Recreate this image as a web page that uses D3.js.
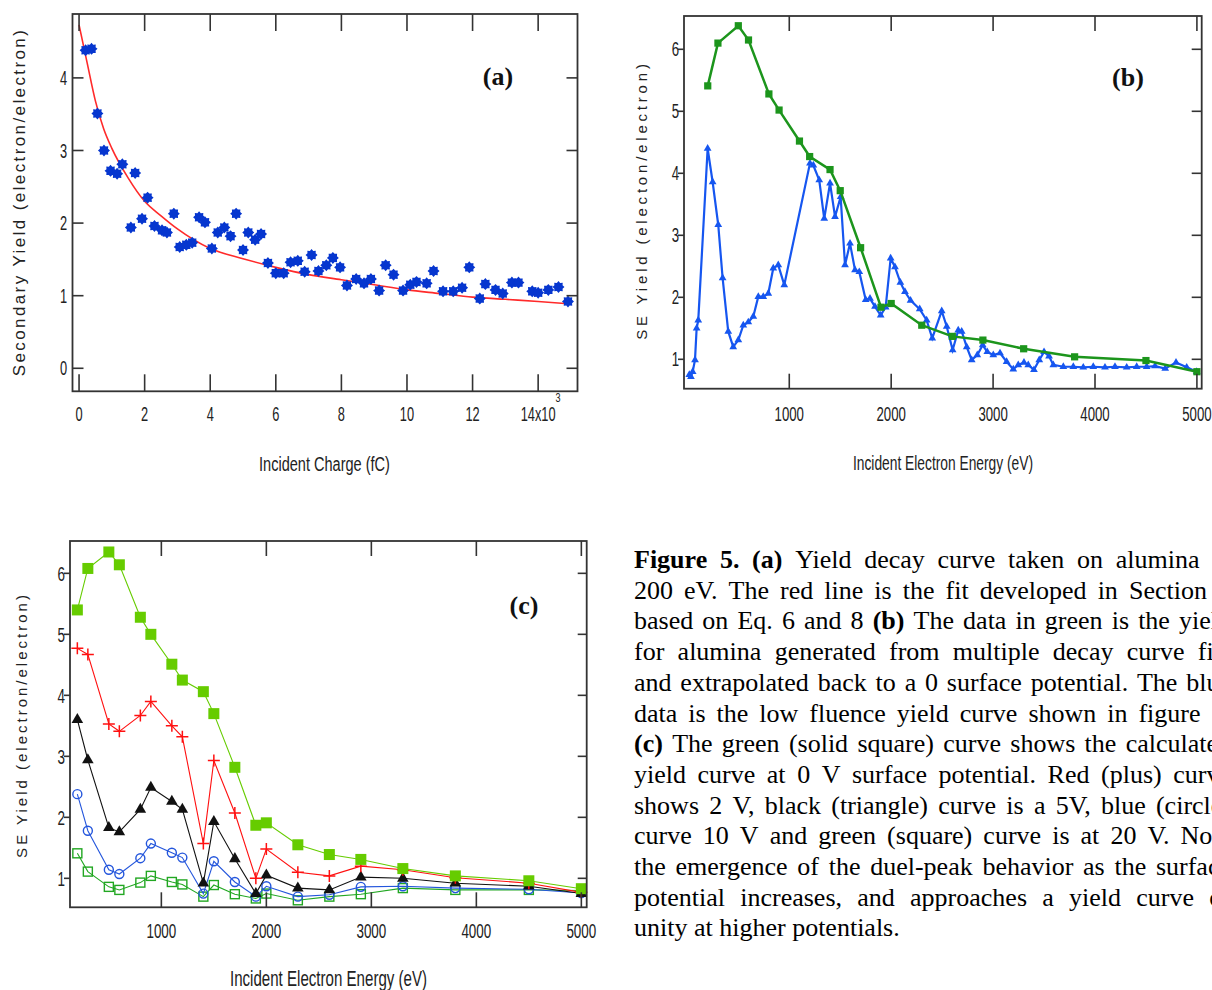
<!DOCTYPE html>
<html><head><meta charset="utf-8">
<script src="https://cdn.jsdelivr.net/npm/d3@7"></script>
<style>html,body{margin:0;padding:0;background:#fff;overflow:hidden}svg{display:block}</style>
</head><body>
<svg id="fig" width="1212" height="990"></svg>
<script>
// ---------------- Panel (a): yield decay ----------------
const aCharge = [0.2,0.38,0.56,0.76,0.96,1.16,1.32,1.58,1.71,1.92,2.09,2.30,2.53,2.68,2.89,3.07,3.27,3.45,3.66,3.84,4.05,4.23,4.43,4.62,4.79,5.0,5.16,5.37,5.55,5.76,6.0,6.24,6.45,6.67,6.88,7.09,7.30,7.54,7.74,7.96,8.17,8.45,8.69,8.90,9.15,9.35,9.59,9.88,10.1,10.29,10.6,10.81,11.1,11.41,11.68,11.9,12.22,12.39,12.7,12.92,13.2,13.4,13.82,14.0,14.31,14.62,14.91];
const aYield = [4.38,4.40,3.51,3.0,2.72,2.68,2.81,1.94,2.69,2.06,2.35,1.96,1.90,1.87,2.13,1.67,1.70,1.73,2.08,2.01,1.65,1.87,1.94,1.82,2.13,1.63,1.87,1.77,1.85,1.45,1.31,1.31,1.46,1.48,1.33,1.56,1.34,1.42,1.52,1.39,1.14,1.23,1.17,1.23,1.07,1.42,1.29,1.07,1.15,1.19,1.17,1.34,1.06,1.06,1.11,1.39,0.96,1.16,1.08,1.03,1.18,1.18,1.06,1.04,1.08,1.12,0.92];
const aFitCharge = [0,0.25,0.5,0.75,1,1.5,2,2.5,3,4,5,6,7,8,9,10,11,12,13,14,14.9];
const aFitYield = [4.73,4.2,3.68,3.3,3.03,2.62,2.3,2.1,1.92,1.65,1.51,1.39,1.29,1.22,1.15,1.08,1.03,0.98,0.95,0.92,0.89];
const aXTicks = [0,2,4,6,8,10,12,14];
const aXTickLabels = ["0","2","4","6","8","10","12","14x10"];
const aYTicks = [0,1,2,3,4];

// ---------------- Panel (b): yield curves ----------------
const bGreenEnergy = [200,300,500,600,800,900,1100,1200,1400,1500,1700,1900,2000,2300,2600,2900,3300,3800,4500,5000];
const bGreenYield = [5.41,6.1,6.38,6.15,5.28,5.02,4.52,4.27,4.06,3.72,2.8,1.84,1.9,1.55,1.37,1.31,1.17,1.04,0.98,0.8];
const bBlueEnergy = [19,35,52,75,91,107,199,248,303,346,401,450,500,549,598,647,696,745,794,843,892,951,1203,1236,1294,1343,1400,1449,1504,1547,1596,1645,1687,1750,1792,1841,1897,1946,1995,2037,2090,2135,2190,2280,2348,2403,2496,2545,2603,2658,2692,2741,2790,2845,2898,2943,3002,3068,3133,3198,3247,3303,3345,3401,3453,3500,3549,3591,3689,3787,3885,3983,4098,4196,4311,4409,4507,4589,4689,4795,4900,4998];
const bBlueYield = [0.75,0.72,0.80,0.99,1.50,1.63,4.40,3.86,3.17,2.31,1.45,1.20,1.31,1.55,1.60,1.69,2.01,2.01,2.06,2.47,2.52,2.20,4.16,4.13,3.89,3.27,3.84,3.30,3.62,2.52,2.87,2.44,2.41,1.96,1.98,1.85,1.71,1.84,2.63,2.49,2.24,2.09,1.95,1.81,1.63,1.34,1.78,1.53,1.15,1.47,1.45,1.20,0.99,1.07,1.23,1.12,1.07,1.10,0.96,0.84,0.91,0.95,0.91,0.83,0.99,1.12,1.05,0.91,0.88,0.88,0.87,0.88,0.87,0.88,0.87,0.88,0.88,0.89,0.85,0.95,0.87,0.80];
const bXTicks = [1000,2000,3000,4000,5000];
const bYTicks = [1,2,3,4,5,6];

// ---------------- Panel (c): surface potentials ----------------
const cEnergy = [200,300,500,600,800,900,1100,1200,1400,1500,1700,1900,2000,2300,2600,2900,3300,3800,4500,5000];
const c0V  = [5.40,6.08,6.35,6.14,5.28,5.00,4.51,4.25,4.06,3.70,2.82,1.87,1.91,1.55,1.39,1.31,1.16,1.04,0.96,0.83];
const c2V  = [4.77,4.67,3.53,3.41,3.67,3.90,3.50,3.32,1.57,2.93,2.07,1.00,1.48,1.10,1.04,1.20,1.14,1.01,0.92,0.77];
const c5V  = [3.60,2.94,1.83,1.76,2.13,2.49,2.26,2.13,0.92,1.93,1.32,0.75,1.05,0.84,0.81,1.02,1.00,0.92,0.87,0.75];
const c10V = [2.38,1.78,1.14,1.07,1.33,1.57,1.42,1.34,0.75,1.28,0.94,0.70,0.87,0.70,0.73,0.86,0.87,0.84,0.82,0.76];
const c20V = [1.41,1.11,0.86,0.81,0.93,1.04,0.94,0.90,0.70,0.89,0.74,0.67,0.75,0.64,0.70,0.74,0.84,0.81,0.81,0.80];
const cXTicks = [1000,2000,3000,4000,5000];
const cYTicks = [1,2,3,4,5,6];

// ---------------- Caption ----------------
const captionLines = [
  "**Figure 5.** **(a)** Yield decay curve taken on alumina at",
  "200 eV. The red line is the fit developed in Section 4",
  "based on Eq. 6 and 8 **(b)** The data in green is the yield",
  "for alumina generated from multiple decay curve fits",
  "and extrapolated back to a 0 surface potential. The blue",
  "data is the low fluence yield curve shown in figure 3.",
  "**(c)** The green (solid square) curve shows the calculated",
  "yield curve at 0 V surface potential. Red (plus) curve",
  "shows 2 V, black (triangle) curve is a 5V, blue (circle)",
  "curve 10 V and green (square) curve is at 20 V. Note",
  "the emergence of the duel-peak behavior as the surface",
  "potential increases, and approaches a yield curve of",
  "unity at higher potentials."
];

// =====================================================
const svg = d3.select("#fig");
const SANS = "'Liberation Sans', Arial, sans-serif";
const SERIF = "'Liberation Serif', 'Times New Roman', serif";
const AXC = "#333";

function txt(g, x, y, s, o = {}) {
  const t = g.append("text")
    .attr("transform", `translate(${x},${y}) rotate(${o.rot||0}) scale(${o.sx||1},${o.sy||1})`)
    .attr("text-anchor", o.anchor || "middle")
    .attr("font-family", o.family || SANS)
    .attr("font-size", o.size || 20)
    .attr("font-weight", o.weight || "normal")
    .attr("fill", o.fill || "#222")
    .text(s);
  if (o.ls) t.attr("letter-spacing", o.ls);
  return t;
}

function frame(g, xs, ys, o) {
  const [l, r] = xs.range(), [b, t] = ys.range();
  g.append("rect").attr("x", l).attr("y", t).attr("width", r - l).attr("height", b - t)
    .attr("fill", "none").attr("stroke", AXC).attr("stroke-width", 1.8);
  const ln = (x1, y1, x2, y2) => g.append("line").attr("x1", x1).attr("y1", y1).attr("x2", x2).attr("y2", y2)
    .attr("stroke", AXC).attr("stroke-width", 1.6);
  o.xTicks.forEach(v => { const x = xs(v); ln(x, b, x, b - o.xLen); ln(x, t, x, t + o.xLen); });
  o.yTicks.forEach(v => { const y = ys(v); ln(l, y, l + o.yLeft, y); ln(r, y, r - o.yRight, y); });
}

function starPath(ro, ri, n) {
  const p = [];
  for (let i = 0; i < 2 * n; i++) {
    const a = Math.PI * i / n - Math.PI / 2, rr = i % 2 ? ri : ro;
    p.push([rr * Math.cos(a), rr * Math.sin(a)]);
  }
  return "M" + p.map(d => d.join(",")).join("L") + "Z";
}

// ---------------- Panel (a) ----------------
{
  const g = svg.append("g");
  const xs = d3.scaleLinear().domain([-0.2, 15.2]).range([72.5, 577.5]);
  const ys = d3.scaleLinear().domain([-0.317, 4.88]).range([391.3, 14]);
  const fit = d3.line().x((d, i) => xs(aFitCharge[i])).y(d => ys(d)).curve(d3.curveMonotoneX);
  g.append("path").attr("d", fit(aFitYield)).attr("fill", "none").attr("stroke", "#ff2a2a").attr("stroke-width", 1.6);
  const sp = starPath(6.0, 4.4, 8);
  g.selectAll(".pa").data(aYield).enter().append("path")
    .attr("d", sp).attr("transform", (d, i) => `translate(${xs(aCharge[i])},${ys(d)})`)
    .attr("fill", "#0636cf");
  frame(g, xs, ys, { xTicks: aXTicks, yTicks: aYTicks, xLen: 17, yLeft: 11, yRight: 11 });
  aXTicks.forEach((v, i) => txt(g, xs(v), 421, aXTickLabels[i], { size: 20, sx: 0.64 }));
  txt(g, 558, 402, "3", { size: 13, sx: 0.7 });
  aYTicks.forEach(v => txt(g, 67, ys(v) + 7.2, String(v), { size: 20, sx: 0.64, anchor: "end" }));
  txt(g, 324.5, 471, "Incident Charge (fC)", { size: 19.5, sx: 0.746 });
  txt(g, 25, 202, "Secondary Yield (electron/electron)", { size: 17, rot: -90, ls: 2.4 });
  txt(g, 498, 85, "(a)", { size: 26, family: SERIF, weight: "bold", fill: "#111" });
}

// ---------------- Panel (b) ----------------
{
  const g = svg.append("g");
  const xs = d3.scaleLinear().domain([-33, 5047]).range([684, 1201.7]);
  const ys = d3.scaleLinear().domain([0.526, 6.537]).range([388.7, 16]);
  const line = d3.line();
  const blue = bBlueEnergy.map((e, i) => [xs(e), ys(bBlueYield[i])]);
  const green = bGreenEnergy.map((e, i) => [xs(e), ys(bGreenYield[i])]);
  g.append("path").attr("d", line(blue)).attr("fill", "none").attr("stroke", "#1656f0").attr("stroke-width", 2.2);
  const tri = d3.symbol(d3.symbolTriangle, 26)();
  g.selectAll(".tb").data(blue).enter().append("path").attr("d", tri)
    .attr("transform", d => `translate(${d[0]},${d[1]})`).attr("fill", "#1656f0");
  g.append("path").attr("d", line(green)).attr("fill", "none").attr("stroke", "#1c951c").attr("stroke-width", 2.5);
  g.selectAll(".sg").data(green).enter().append("rect")
    .attr("x", d => d[0] - 3.6).attr("y", d => d[1] - 3.6).attr("width", 7.2).attr("height", 7.2).attr("fill", "#1c951c");
  frame(g, xs, ys, { xTicks: bXTicks, yTicks: bYTicks, xLen: 15, yLeft: -6, yRight: 10 });
  bXTicks.forEach(v => txt(g, xs(v), 420.5, String(v), { size: 20, sx: 0.66 }));
  bYTicks.forEach(v => txt(g, 679, ys(v) + 7, String(v), { size: 20, sx: 0.66, anchor: "end" }));
  txt(g, 943, 470, "Incident Electron Energy (eV)", { size: 20, sx: 0.69 });
  txt(g, 647, 200, "SE Yield (electon/electron)", { size: 15, rot: -90, ls: 3.8 });
  txt(g, 1128, 86, "(b)", { size: 26, family: SERIF, weight: "bold", fill: "#111" });
}

// ---------------- Panel (c) ----------------
{
  const g = svg.append("g");
  const xs = d3.scaleLinear().domain([130, 5051]).range([70, 586.7]);
  const ys = d3.scaleLinear().domain([0.525, 6.53]).range([907.3, 541]);
  const line = d3.line().x((d, i) => xs(cEnergy[i])).y(d => ys(d));
  const series = [
    { v: c20V, col: "#22a722", mk: "osq" },
    { v: c10V, col: "#2456dc", mk: "ocirc" },
    { v: c5V, col: "#111111", mk: "tri" },
    { v: c2V, col: "#ff1010", mk: "plus" },
    { v: c0V, col: "#66cc00", mk: "fsq" }
  ];
  series.forEach(s => {
    g.append("path").attr("d", line(s.v)).attr("fill", "none").attr("stroke", s.col).attr("stroke-width", 1.1);
    const pts = s.v.map((d, i) => [xs(cEnergy[i]), ys(d)]);
    const sel = g.selectAll(null).data(pts).enter();
    if (s.mk === "fsq") sel.append("rect").attr("x", d => d[0] - 5.5).attr("y", d => d[1] - 5.5).attr("width", 11).attr("height", 11).attr("fill", s.col);
    if (s.mk === "osq") sel.append("rect").attr("x", d => d[0] - 4.5).attr("y", d => d[1] - 4.5).attr("width", 9).attr("height", 9).attr("fill", "none").attr("stroke", s.col).attr("stroke-width", 1.4);
    if (s.mk === "ocirc") sel.append("circle").attr("cx", d => d[0]).attr("cy", d => d[1]).attr("r", 4.5).attr("fill", "none").attr("stroke", s.col).attr("stroke-width", 1.4);
    if (s.mk === "tri") sel.append("path").attr("d", d3.symbol(d3.symbolTriangle, 58)()).attr("transform", d => `translate(${d[0]},${d[1]})`).attr("fill", s.col);
    if (s.mk === "plus") sel.append("path").attr("d", "M-6,0H6M0,-6V6").attr("transform", d => `translate(${d[0]},${d[1]})`).attr("stroke", s.col).attr("stroke-width", 1.5);
  });
  frame(g, xs, ys, { xTicks: cXTicks, yTicks: cYTicks, xLen: 15, yLeft: -6, yRight: 9 });
  cXTicks.forEach(v => txt(g, xs(v), 938, String(v), { size: 21, sx: 0.64 }));
  cYTicks.forEach(v => txt(g, 65, ys(v) + 7.3, String(v), { size: 21, sx: 0.64, anchor: "end" }));
  txt(g, 328.5, 986, "Incident Electron Energy (eV)", { size: 22, sx: 0.686 });
  txt(g, 27, 725, "SE Yield (electron/electron)", { size: 15, rot: -90, ls: 3.0 });
  txt(g, 524, 614, "(c)", { size: 26, family: SERIF, weight: "bold", fill: "#111" });
}

// ---------------- Caption (justified lines) ----------------
{
  const g = svg.append("g").attr("font-family", SERIF).attr("font-size", 26).attr("fill", "#000");
  const x0 = 634, W = 597, y0 = 568, lh = 30.7;
  captionLines.forEach((s, li) => {
    let bold = false;
    const words = s.split(" ").map(w => {
      let b = bold; let t = w;
      if (t.startsWith("**")) { b = true; t = t.slice(2); }
      let endB = false;
      if (t.endsWith("**")) { t = t.slice(0, -2); endB = true; }
      bold = b && !endB;
      return { t, b };
    });
    const y = y0 + li * lh;
    const els = words.map(w => g.append("text").attr("y", y).attr("font-weight", w.b ? "bold" : "normal").text(w.t));
    const widths = els.map(e => e.node().getComputedTextLength());
    const sum = d3.sum(widths);
    const last = li === captionLines.length - 1;
    const gap = last ? 6.5 : (W - sum) / (words.length - 1);
    let x = x0;
    els.forEach((e, i) => { e.attr("x", x); x += widths[i] + gap; });
  });
}
</script>
</body></html>
